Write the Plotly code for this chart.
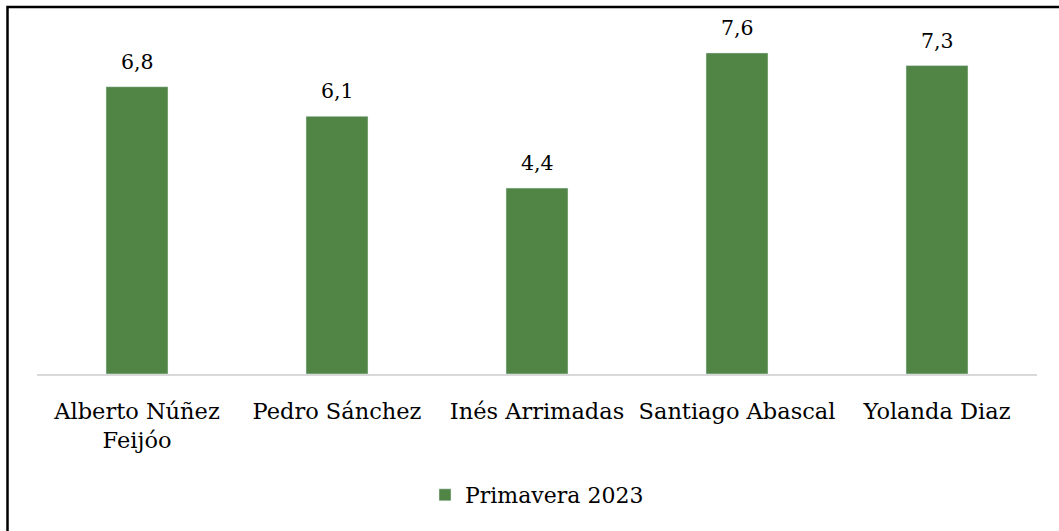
import plotly.graph_objects as go

categories = ["Alberto Núñez<br>Feijóo", "Pedro Sánchez", "Inés Arrimadas", "Santiago Abascal", "Yolanda Diaz"]
values = [6.8, 6.1, 4.4, 7.6, 7.3]
value_labels = ["6,8", "6,1", "4,4", "7,6", "7,3"]
series_name = "Primavera 2023"

W, H = 1059, 531
# plot area in page pixels: x 37..1037, y 36..374
PL, PR, PT, PB = 37, 1037, 36, 374
PW, PH = PR - PL, PB - PT
ML, MT = PL, PT
MR, MB = W - ML - PW, H - MT - PH

def px_x(px):
    return (px - PL) / PW

def px_y(py):
    return (PB - py) / PH

SERIF = "DejaVu Serif, serif"

fig = go.Figure()
fig.add_trace(go.Bar(
    x=categories, y=values, name=series_name,
    marker=dict(color="#508545"),
    showlegend=True,
))

for c, v, t in zip(categories, values, value_labels):
    fig.add_annotation(x=c, y=v, text=t, showarrow=False, yanchor="bottom",
                       yshift=11, font=dict(family=SERIF, size=20.5, color="#000000"))

fig.add_shape(type="rect", xref="paper", yref="paper",
              x0=px_x(7.5), x1=px_x(1080), y0=px_y(560), y1=px_y(7),
              line=dict(color="#000000", width=2.5), layer="above")

fig.update_layout(
    width=W, height=H,
    margin=dict(l=ML, r=MR, t=MT, b=MB),
    paper_bgcolor="white", plot_bgcolor="white",
    bargap=0.69,
    font=dict(family=SERIF, size=22.5, color="#000000"),
    xaxis=dict(showline=True, linecolor="#d9d9d9", linewidth=1.5, ticks="",
               ticklabelstandoff=16, tickfont=dict(family=SERIF, size=22.5)),
    yaxis=dict(range=[0, 8], visible=False, showgrid=False, zeroline=False),
    legend=dict(orientation="h", x=0.5, xanchor="center", y=px_y(495), yanchor="middle",
                font=dict(family=SERIF, size=22)),
)

fig.write_html("out.html", config={"displayModeBar": False},
               post_script="document.body.style.margin='0';")
